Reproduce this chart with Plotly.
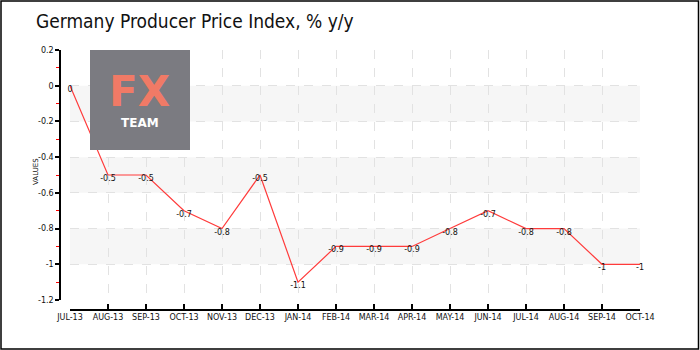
import plotly.graph_objects as go

months = ["JUL-13", "AUG-13", "SEP-13", "OCT-13", "NOV-13", "DEC-13", "JAN-14", "FEB-14",
          "MAR-14", "APR-14", "MAY-14", "JUN-14", "JUL-14", "AUG-14", "SEP-14", "OCT-14"]
values = [0, -0.5, -0.5, -0.7, -0.8, -0.5, -1.1, -0.9, -0.9, -0.9, -0.8, -0.7, -0.8, -0.8, -1, -1]
y_ticks = [0.2, 0, -0.2, -0.4, -0.6, -0.8, -1, -1.2]
y_tick_labels = ["0.2", "0", "-0.2", "-0.4", "-0.6", "-0.8", "-1", "-1.2"]
bands = [(-0.2, 0), (-0.6, -0.4), (-1.0, -0.8)]

W, H = 700, 350
ML, MR, MT, MB = 60, 60, 50, 40
PW, PH = W - ML - MR, H - MT - MB

def px(x):
    return (x - ML) / PW

def py(y):
    return (H - MB - y) / PH

xs = list(range(len(months)))
labels = [("%g" % v) for v in values]

fig = go.Figure()
fig.add_trace(go.Scatter(
    x=xs, y=values, mode="lines+text", text=labels,
    textposition="bottom center",
    textfont=dict(family="DejaVu Sans", size=8, color="#111"),
    line=dict(color="#ff3b3b", width=1.2),
    hoverinfo="skip", showlegend=False, cliponaxis=False,
))

shapes = []
for lo, hi in bands:
    shapes.append(dict(type="rect", xref="x", yref="y", x0=0, x1=len(months) - 1,
                       y0=lo, y1=hi, fillcolor="#f6f6f6", line=dict(width=0), layer="below"))
# logo box
shapes.append(dict(type="rect", xref="paper", yref="paper", x0=px(90), x1=px(190),
                   y0=py(150), y1=py(50), fillcolor="#7b7b81", line=dict(width=0), layer="above"))
# outer border
shapes.append(dict(type="rect", xref="paper", yref="paper", x0=px(1), x1=px(698.5),
                   y0=py(349), y1=py(1), line=dict(color="#000", width=1.5)))

annotations = [
    dict(text="<b>FX</b>", xref="paper", yref="paper", x=px(139), y=py(91), showarrow=False,
         font=dict(family="DejaVu Sans", size=42, color="#f07a66"), xanchor="center", yanchor="middle",
         height=40, valign="middle"),
    dict(text="<b>TEAM</b>", xref="paper", yref="paper", x=px(140), y=py(123), showarrow=False,
         font=dict(family="DejaVu Sans", size=12, color="#ffffff"), xanchor="center", yanchor="middle"),
    dict(text="Germany Producer Price Index, % y/y", xref="paper", yref="paper",
         x=px(34), y=py(21), showarrow=False, xanchor="left", yanchor="middle",
         font=dict(family="DejaVu Sans Condensed, DejaVu Sans", size=19, color="#111")),
    dict(text="VALUES", xref="paper", yref="paper", x=px(36), y=py(172), showarrow=False,
         textangle=-90, xanchor="center", yanchor="middle",
         font=dict(family="DejaVu Sans", size=7, color="#111")),
]

fig.update_layout(
    width=W, height=H,
    margin=dict(l=ML, r=MR, t=MT, b=MB),
    paper_bgcolor="white", plot_bgcolor="white",
    shapes=shapes, annotations=annotations,
    xaxis=dict(
        domain=[px(70), 1], range=[0, len(months) - 1],
        tickmode="array", tickvals=xs, ticktext=months,
        anchor="free", position=0,
        showline=True, linecolor="#000", linewidth=1.5,
        ticks="inside", ticklen=5, tickcolor="#000", tickwidth=1.5,
        showgrid=True, gridcolor="#e2e2e2", griddash="dash", gridwidth=1,
        tickfont=dict(family="DejaVu Sans", size=8, color="#111"),
        zeroline=False, fixedrange=True,
    ),
    yaxis=dict(
        domain=[py(300), 1], range=[-1.2, 0.2],
        tickmode="array", tickvals=y_ticks, ticktext=y_tick_labels,
        anchor="free", position=0,
        showline=True, linecolor="#000", linewidth=1.5,
        ticks="outside", ticklen=4, tickcolor="#000", tickwidth=1.5,
        minor=dict(tickmode="array", tickvals=[0.1, -0.1, -0.3, -0.5, -0.7, -0.9, -1.1],
                   ticks="outside", ticklen=3, tickcolor="#ff0000", tickwidth=1, showgrid=False),
        showgrid=True, gridcolor="#e2e2e2", griddash="dash", gridwidth=1,
        tickfont=dict(family="DejaVu Sans", size=8, color="#111"),
        zeroline=False, fixedrange=True,
    ),
)

fig.write_html("out.html")
